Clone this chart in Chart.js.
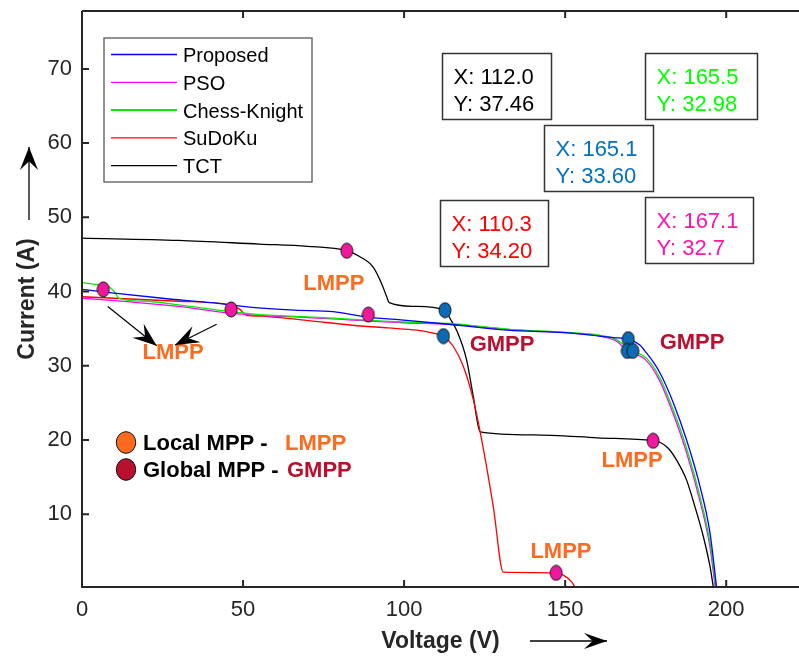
<!DOCTYPE html>
<html>
<head>
<title>I-V curves</title>
<script src="https://cdn.jsdelivr.net/npm/chart.js"></script>
<style>
body { margin: 0; background: #fff; overflow: hidden; }
#wrap { width: 799px; height: 659px; }
canvas { display: block; }
</style>
</head>
<body>
<div id="wrap"><canvas id="ivChart" width="799" height="659"></canvas></div>
<script>
// I-V curves (voltage V, current A)
const proposedV = [0, 10, 25, 40, 52, 66, 78, 88, 99, 114, 132, 152, 165, 169.6, 173.2, 175.3, 177.4, 179.5, 183.6, 187.7, 191.9, 195, 197];
const proposedI = [40.3, 39.8, 39.1, 38.5, 37.9, 37.5, 37.3, 36.6, 36.2, 35.6, 34.8, 34.4, 33.8, 33.6, 32.8, 31.7, 30.5, 29.0, 25.0, 20.0, 13.7, 7.4, 0.2];

const psoV = [0, 15, 30, 46, 55, 70, 83, 100, 114, 132, 152, 161, 166, 169.3, 175, 179.2, 183.3, 187.4, 191.6, 194.8, 196.6];
const psoI = [39.1, 38.6, 38.0, 37.1, 36.8, 36.5, 36.2, 35.8, 35.6, 34.9, 34.4, 34.0, 33.3, 32.0, 30.8, 28.1, 23.8, 18.7, 12.2, 6.0, 0.2];

const chessV = [0, 5, 8.5, 10, 11.5, 20, 30, 46, 55, 70, 83, 100, 114, 132, 152, 161, 166, 170, 175.3, 179.5, 183.6, 187.7, 191.9, 195, 196.8];
const chessI = [41.2, 40.9, 40.6, 40.0, 39.1, 38.7, 38.2, 37.3, 36.9, 36.6, 36.3, 35.9, 35.7, 34.95, 34.45, 34.1, 33.5, 32.2, 31.0, 28.3, 24.0, 18.9, 12.3, 6.1, 0.2];

const sudokuV = [0, 15, 30, 46, 49, 51.1, 55, 70, 83.2, 95, 103.9, 109, 112.2, 115.3, 118.4, 121.5, 124.1, 127.7, 130.8, 140, 147.2, 149.4, 152, 153];
const sudokuI = [39.3, 39.0, 38.7, 38.2, 37.6, 36.8, 36.7, 36.1, 35.5, 35.1, 34.8, 34.4, 34.0, 32.6, 29.9, 25.4, 20.0, 11.0, 2.2, 2.15, 2.1, 1.8, 0.9, 0.2];

const tctV = [0, 30, 55, 70, 82.2, 86.3, 90.4, 93, 94.6, 95.4, 103, 112.7, 114.5, 116.3, 119.4, 121.5, 123.6, 140, 160, 177.3, 179.4, 182, 184.6, 187.7, 190.3, 192.9, 195, 196];
const tctI = [47.2, 46.9, 46.4, 46.1, 45.5, 44.7, 43.3, 41.1, 39.3, 38.5, 38.0, 37.5, 36.2, 34.8, 30.8, 25.8, 21.1, 20.7, 20.3, 19.9, 19.7, 18.9, 17.3, 14.6, 11.0, 7.0, 2.9, 0.2];

// marked maximum power points
const lmppV = [6.6, 46.3, 88.9, 82.2, 177.3, 147.2];
const lmppI = [40.3, 37.6, 36.9, 45.5, 19.9, 2.1];
const gmppV = [112.7, 112.2, 169.6, 169.3, 171.0];
const gmppI = [37.5, 34.0, 33.6, 32.0, 32.0];

const xTicks = [0, 50, 100, 150, 200];
const yTicks = [10, 20, 30, 40, 50, 60, 70];

// data tips
const tipLines = [['X: 112.0', 'Y: 37.46'], ['X: 165.5', 'Y: 32.98'], ['X: 165.1', 'Y: 33.60'], ['X: 110.3', 'Y: 34.20'], ['X: 167.1', 'Y: 32.7']];

const FONT = "'Liberation Sans', Arial, sans-serif";
const AXIS = '#262626';
const ORANGE = '#ff6a1f';
const CRIMSON = '#b8102e';

const tipBoxes = [
  { x: 111.7, y: 72.2, w: 109, h: 66, color: '#000000' },
  { x: 174.8, y: 72.2, w: 112, h: 66, color: '#00ff00' },
  { x: 143.4, y: 62.4, w: 109, h: 66, color: '#0072bd' },
  { x: 111.1, y: 52.3, w: 108, h: 66, color: '#ff0000' },
  { x: 174.8, y: 52.7, w: 108, h: 66, color: '#ff14aa' }
];

const mppLabels = [
  { text: 'LMPP', x: 78.2, y: 41.0, color: ORANGE },
  { text: 'LMPP', x: 28.3, y: 31.7, color: ORANGE },
  { text: 'GMPP', x: 130.4, y: 32.8, color: CRIMSON },
  { text: 'GMPP', x: 189.4, y: 33.1, color: CRIMSON },
  { text: 'LMPP', x: 170.8, y: 17.2, color: ORANGE },
  { text: 'LMPP', x: 148.7, y: 4.9, color: ORANGE }
];

// pointer arrows to the lower-left LMPP label (data units)
const pointers = [
  { x1: 8.0, y1: 38.0, x2: 23.2, y2: 32.7 },
  { x1: 41.8, y1: 35.6, x2: 28.9, y2: 32.8 }
];

function pts(xs, ys) {
  return xs.map((x, i) => ({ x: x, y: ys[i] }));
}

function ellipseDot(fill, w, h) {
  const c = document.createElement('canvas');
  c.width = w + 2;
  c.height = h + 2;
  const g = c.getContext('2d');
  g.beginPath();
  g.ellipse(c.width / 2, c.height / 2, w / 2, h / 2, 0, 0, Math.PI * 2);
  g.fillStyle = fill;
  g.fill();
  g.lineWidth = 1;
  g.strokeStyle = '#111';
  g.stroke();
  return c;
}

function lineSet(label, xs, ys, color, order) {
  return {
    label: label,
    data: pts(xs, ys),
    showLine: true,
    borderColor: color,
    borderWidth: 1.3,
    pointRadius: 0,
    cubicInterpolationMode: 'monotone',
    fill: false,
    order: order
  };
}

const lines = [
  lineSet('Proposed', proposedV, proposedI, '#0000ff', 1),
  lineSet('PSO', psoV, psoI, '#ff00ff', 3),
  lineSet('Chess-Knight', chessV, chessI, '#00ee00', 2),
  lineSet('SuDoKu', sudokuV, sudokuI, '#ff0000', 4),
  lineSet('TCT', tctV, tctI, '#000000', 5)
];

const markers = [
  { label: 'lmpp', data: pts(lmppV, lmppI), pointStyle: ellipseDot('#f2189e', 12, 15), pointRadius: 7, order: 0 },
  { label: 'gmpp', data: pts(gmppV, gmppI), pointStyle: ellipseDot('#0b6cb5', 12, 15), pointRadius: 7, order: 0 }
];

function arrow(ctx, x1, y1, x2, y2, len, half) {
  ctx.beginPath();
  ctx.moveTo(x1, y1);
  ctx.lineTo(x2, y2);
  ctx.stroke();
  const a = Math.atan2(y2 - y1, x2 - x1);
  ctx.save();
  ctx.translate(x2, y2);
  ctx.rotate(a);
  ctx.beginPath();
  ctx.moveTo(0, 0);
  ctx.lineTo(-len, -half);
  ctx.lineTo(-len * 0.62, 0);
  ctx.lineTo(-len, half);
  ctx.closePath();
  ctx.fill();
  ctx.restore();
}

// no extra room for edge labels: the plot box is fixed
function noPad(s) {
  s.paddingTop = 0;
  s.paddingBottom = 0;
  s.paddingLeft = 0;
  s.paddingRight = 0;
}

const decor = {
  id: 'decor',
  afterDatasetsDraw(chart) {
    const ctx = chart.ctx;
    const a = chart.chartArea;
    const xs = chart.scales.x, ys = chart.scales.y;
    ctx.save();

    // axes box (left, bottom, top) with inward ticks
    ctx.strokeStyle = AXIS;
    ctx.lineWidth = 2;
    ctx.beginPath();
    ctx.moveTo(a.left, a.top);
    ctx.lineTo(a.left, a.bottom);
    ctx.lineTo(a.right, a.bottom);
    ctx.moveTo(a.left, a.top);
    ctx.lineTo(a.right, a.top);
    yTicks.forEach(v => {
      const p = ys.getPixelForValue(v);
      ctx.moveTo(a.left, p);
      ctx.lineTo(a.left + 7, p);
    });
    xTicks.forEach(v => {
      const p = xs.getPixelForValue(v);
      ctx.moveTo(p, a.bottom);
      ctx.lineTo(p, a.bottom - 7);
      ctx.moveTo(p, a.top);
      ctx.lineTo(p, a.top + 7);
    });
    ctx.stroke();

    // MPP labels
    ctx.font = 'bold 22px ' + FONT;
    ctx.textAlign = 'center';
    ctx.textBaseline = 'middle';
    mppLabels.forEach(l => {
      ctx.fillStyle = l.color;
      ctx.fillText(l.text, xs.getPixelForValue(l.x), ys.getPixelForValue(l.y));
    });

    // pointer arrows
    ctx.strokeStyle = '#000';
    ctx.fillStyle = '#000';
    ctx.lineWidth = 1.2;
    pointers.forEach(p => {
      arrow(ctx, xs.getPixelForValue(p.x1), ys.getPixelForValue(p.y1),
        xs.getPixelForValue(p.x2), ys.getPixelForValue(p.y2), 24, 9);
    });

    // data tips
    ctx.font = '22px ' + FONT;
    ctx.textAlign = 'left';
    tipBoxes.forEach((b, i) => {
      const bx = Math.round(xs.getPixelForValue(b.x)) + 0.5;
      const by = Math.round(ys.getPixelForValue(b.y)) + 0.5;
      ctx.fillStyle = '#fff';
      ctx.fillRect(bx, by, b.w, b.h);
      ctx.strokeStyle = '#333';
      ctx.lineWidth = 1.5;
      ctx.strokeRect(bx, by, b.w, b.h);
      ctx.fillStyle = b.color;
      ctx.fillText(tipLines[i][0], bx + 11, by + 24);
      ctx.fillText(tipLines[i][1], bx + 11, by + 51);
    });

    // series legend
    const lx = a.left + 22, ly = a.top + 27;
    ctx.fillStyle = '#fff';
    ctx.fillRect(lx, ly, 208, 144);
    ctx.strokeStyle = '#6e6e6e';
    ctx.lineWidth = 1.5;
    ctx.strokeRect(lx, ly, 208, 144);
    ctx.font = '20px ' + FONT;
    lines.forEach((d, i) => {
      const ry = ly + 16.5 + i * 27.8;
      ctx.strokeStyle = d.borderColor;
      ctx.lineWidth = d.label === 'Chess-Knight' ? 2 : 1.3;
      ctx.beginPath();
      ctx.moveTo(lx + 7, ry);
      ctx.lineTo(lx + 73, ry);
      ctx.stroke();
      ctx.fillStyle = '#000';
      ctx.fillText(d.label, lx + 79, ry + 2);
    });

    // MPP key
    const kx = a.left + 44;
    const keys = [
      { y: a.top + 431.5, fill: ORANGE, text: 'Local MPP - ', tag: 'LMPP', tagX: a.left + 203 },
      { y: a.top + 458.5, fill: CRIMSON, text: 'Global MPP - ', tag: 'GMPP', tagX: a.left + 205 }
    ];
    keys.forEach(k => {
      ctx.beginPath();
      ctx.ellipse(kx, k.y, 9.7, 10.8, 0, 0, Math.PI * 2);
      ctx.fillStyle = k.fill;
      ctx.fill();
      ctx.strokeStyle = '#111';
      ctx.lineWidth = 1;
      ctx.stroke();
      ctx.font = 'bold 22px ' + FONT;
      ctx.fillStyle = '#000';
      ctx.fillText(k.text, a.left + 61, k.y + 1);
      ctx.fillStyle = k.fill;
      ctx.fillText(k.tag, k.tagX, k.y + 1);
    });

    // arrows next to the axis titles
    ctx.strokeStyle = '#000';
    ctx.fillStyle = '#000';
    ctx.lineWidth = 1.3;
    arrow(ctx, 29, 220, 29, 147, 23, 9);
    arrow(ctx, 530, 641, 607, 641, 23, 8);

    ctx.restore();
  }
};

new Chart(document.getElementById('ivChart'), {
  type: 'scatter',
  data: { datasets: markers.concat(lines) },
  options: {
    responsive: false,
    animation: false,
    layout: { autoPadding: false, padding: { top: 11, right: 0, bottom: 0, left: 0 } },
    plugins: { legend: { display: false }, tooltip: { enabled: false } },
    scales: {
      x: {
        type: 'linear',
        min: 0,
        max: 222.6,
        afterBuildTicks: s => { s.ticks = xTicks.map(v => ({ value: v })); },
        afterFit: s => { s.height = 72; noPad(s); },
        grid: { display: false, drawTicks: false },
        border: { display: false },
        ticks: { color: AXIS, font: { family: FONT, size: 22 }, padding: 10, maxRotation: 0 },
        title: { display: true, text: 'Voltage (V)', color: AXIS, font: { family: FONT, size: 23, weight: 'bold' }, padding: { top: 0, bottom: 4 } }
      },
      y: {
        type: 'linear',
        min: 0.2,
        max: 77.8,
        afterBuildTicks: s => { s.ticks = yTicks.map(v => ({ value: v })); },
        afterFit: s => { s.width = 82; noPad(s); },
        grid: { display: false, drawTicks: false },
        border: { display: false },
        ticks: { color: AXIS, font: { family: FONT, size: 22 }, padding: 10 },
        title: { display: true, text: 'Current (A)', color: AXIS, font: { family: FONT, size: 23, weight: 'bold' }, padding: { top: 14, bottom: 0 } }
      }
    }
  },
  plugins: [decor]
});
</script>
</body>
</html>
